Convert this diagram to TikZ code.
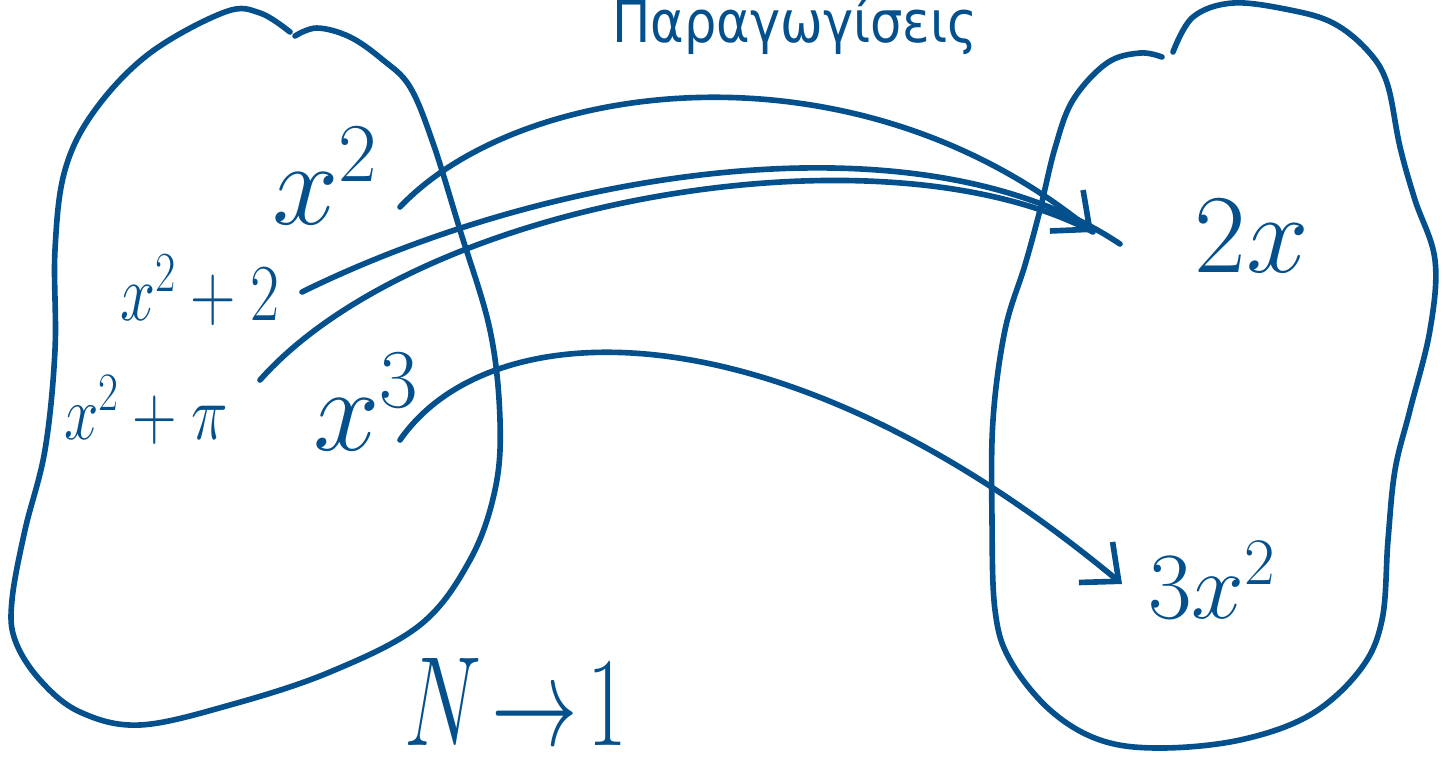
\RequirePackage{fix-cm}
\documentclass[tikz,border=0pt]{standalone}
\usepackage{fontspec}
\newfontfamily\greekfont{DejaVu Sans}
\usetikzlibrary{arrows.meta}
\definecolor{ink}{RGB}{4,80,140}
\tikzset{
  pen/.style={draw=ink, line width=3.2pt, line cap=round, line join=round},
  lbl/.style={text=ink, inner sep=0pt},
  barb/.style={-{Straight Barb[length=17pt,width=30pt,line width=3.2pt]}}
}
\begin{document}
\begin{tikzpicture}[x=0.02cm,y=-0.02cm]
\useasboundingbox (0,0) rectangle (1444,769);
% left blob
\draw[pen] plot[smooth,tension=0.6] coordinates {(290,32) (260,13) (225,12) (150,53) (95,110) (65,170) (55,250) (55,350) (45,450) (25,530) (12,600) (15,640) (40,680) (80,712) (140,725) (230,705) (330,672) (420,625) (470,560) (495,490) (500,420) (490,330) (460,230) (433,143) (410,87) (383,60) (350,37) (317,28) (295,36)};
% right blob
\draw[pen] plot[smooth,tension=0.6] coordinates {(1162,57) (1140,53) (1107,63) (1073,100) (1055,148) (1040,210) (1025,265) (1005,330) (993,420) (992,520) (995,610) (1010,660) (1050,710) (1100,740) (1160,748) (1240,740) (1310,715) (1360,670) (1382,620) (1388,540) (1395,470) (1410,410) (1430,330) (1435,260) (1415,200) (1400,147) (1387,83) (1367,50) (1333,23) (1290,10) (1233,3) (1193,17) (1173,52)};
% title
\node[lbl, anchor=base] (title) at (795,42) {\scalebox{0.88}[1]{\fontsize{33}{33}\selectfont\greekfont Παραγωγίσεις}};
% labels
\node[lbl] (x2) at (325,176) {\fontsize{68}{68}\selectfont $x^2$};
\node[lbl] (x2p2) at (200,290) {\scalebox{0.78}[1]{\fontsize{46}{46}\selectfont $x^2+2$}};
\node[lbl] (x2ppi) at (146,410) {\scalebox{0.8}[1]{\fontsize{44}{44}\selectfont $x^2+\pi$}};
\node[lbl] (x3) at (366,402) {\fontsize{68}{68}\selectfont $x^3$};
\node[lbl] (d2x) at (1252,236) {\fontsize{64}{64}\selectfont $2x$};
\node[lbl] (d3x2) at (1212,580) {\fontsize{54}{54}\selectfont $3x^2$};
\node[lbl] (n1) at (516,702) {\scalebox{0.85}[1.25]{\fontsize{58}{58}\selectfont $N\!\rightarrow\!1$}};
% connector end points
\coordinate (s1) at (400,207);
\coordinate (s2) at (302,292);
\coordinate (s3) at (260,380);
\coordinate (s4) at (400,440);
\coordinate (e1) at (1093,232);
\coordinate (e2) at (1120,244);
\coordinate (e4) at (1122,584);
% connectors
\draw[pen] (s2) .. controls (550,170) and (920,110) .. (e2);
\draw[pen] (s3) .. controls (420,200) and (880,120) .. (e1);
\draw[pen, barb] (s1) .. controls (520,80) and (850,35) .. (e1);
\draw[pen, barb] (s4) .. controls (490,310) and (780,300) .. (e4);
\end{tikzpicture}
\end{document}
